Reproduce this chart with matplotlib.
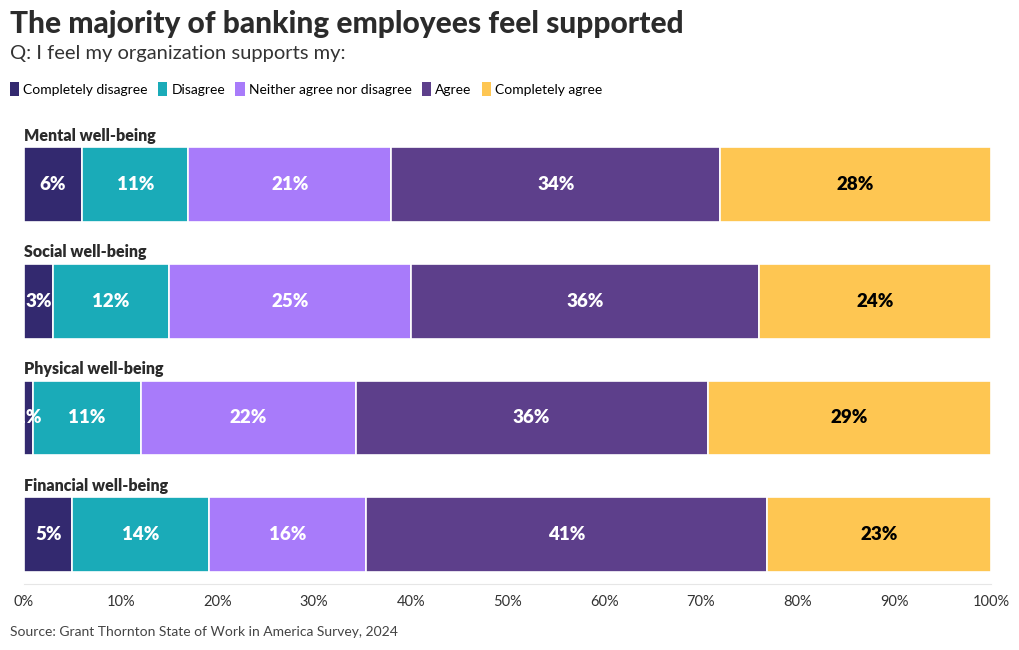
import numpy as np
import matplotlib.pyplot as plt
from matplotlib.patches import Patch

categories = ['Mental well-being', 'Social well-being', 'Physical well-being', 'Financial well-being']
responses = ['Completely disagree', 'Disagree', 'Neither agree nor disagree', 'Agree', 'Completely agree']
colors = ['#33296f', '#1aabb8', '#a87bfa', '#5d3f8b', '#fec652']
text_colors = ['white', 'white', 'white', 'white', 'black']

# shares per category (segment widths)
values = [
    [6.0, 11.0, 21.0, 34.0, 28.0],
    [3.0, 12.0, 25.0, 36.0, 24.0],
    [0.9, 11.2, 22.2, 36.4, 29.3],
    [5.0, 14.1, 16.3, 41.4, 23.2],
]
labels = [
    ['6%', '11%', '21%', '34%', '28%'],
    ['3%', '12%', '25%', '36%', '24%'],
    ['1%', '11%', '22%', '36%', '29%'],
    ['5%', '14%', '16%', '41%', '23%'],
]

plt.rcParams['font.family'] = ['Lato', 'DejaVu Sans']

fig = plt.figure(figsize=(10.2, 6.5), dpi=100)
ax = fig.add_axes([24 / 1020, 1 - 584 / 650, (991 - 24) / 1020, 454 / 650])

h = 0.64
for i, row in enumerate(values):
    left = 0
    for j, v in enumerate(row):
        ax.barh(i, v, left=left, height=h, color=colors[j], edgecolor='white', linewidth=1.2)
        ax.text(left + v / 2, i, labels[i][j], ha='center', va='center', color=text_colors[j],
                fontsize=13.5, fontweight='heavy', clip_on=True)
        left += v
    ax.text(0, i - h / 2 - 0.03, categories[i], ha='left', va='bottom', fontsize=11.5,
            fontweight='heavy', color='#2b2b2b')

ax.set_xlim(0, 100)
ax.set_ylim(3 + 0.424, -0.467)
ax.set_xticks(np.arange(0, 101, 10))
ax.set_xticklabels([f'{t}%' for t in range(0, 101, 10)])
ax.set_yticks([])
ax.tick_params(axis='x', length=0, pad=8, labelsize=10.5, labelcolor='#333333')
for s in ['top', 'right', 'left']:
    ax.spines[s].set_visible(False)
ax.spines['bottom'].set_color('#e6e6e6')

fig.text(10 / 1020, 1 - 24 / 650, 'The majority of banking employees feel supported', fontsize=21.5,
         fontweight='black', color='#2b2b2b', va='center', ha='left')
fig.text(10 / 1020, 1 - 53 / 650, 'Q: I feel my organization supports my:', fontsize=14.5,
         color='#333333', va='center', ha='left')

handles = [Patch(facecolor=c, label=r) for c, r in zip(colors, responses)]
fig.legend(handles=handles, loc='center left', bbox_to_anchor=(4 / 1020, 1 - 89 / 650), ncol=5,
           frameon=False, fontsize=10, handlelength=0.7, handleheight=1.1, handletextpad=0.3,
           columnspacing=0.7, borderaxespad=0)

fig.text(10 / 1020, 1 - 632 / 650, 'Source: Grant Thornton State of Work in America Survey, 2024',
         fontsize=10, color='#444444', va='center', ha='left')

fig.savefig('out.png', dpi=100)
